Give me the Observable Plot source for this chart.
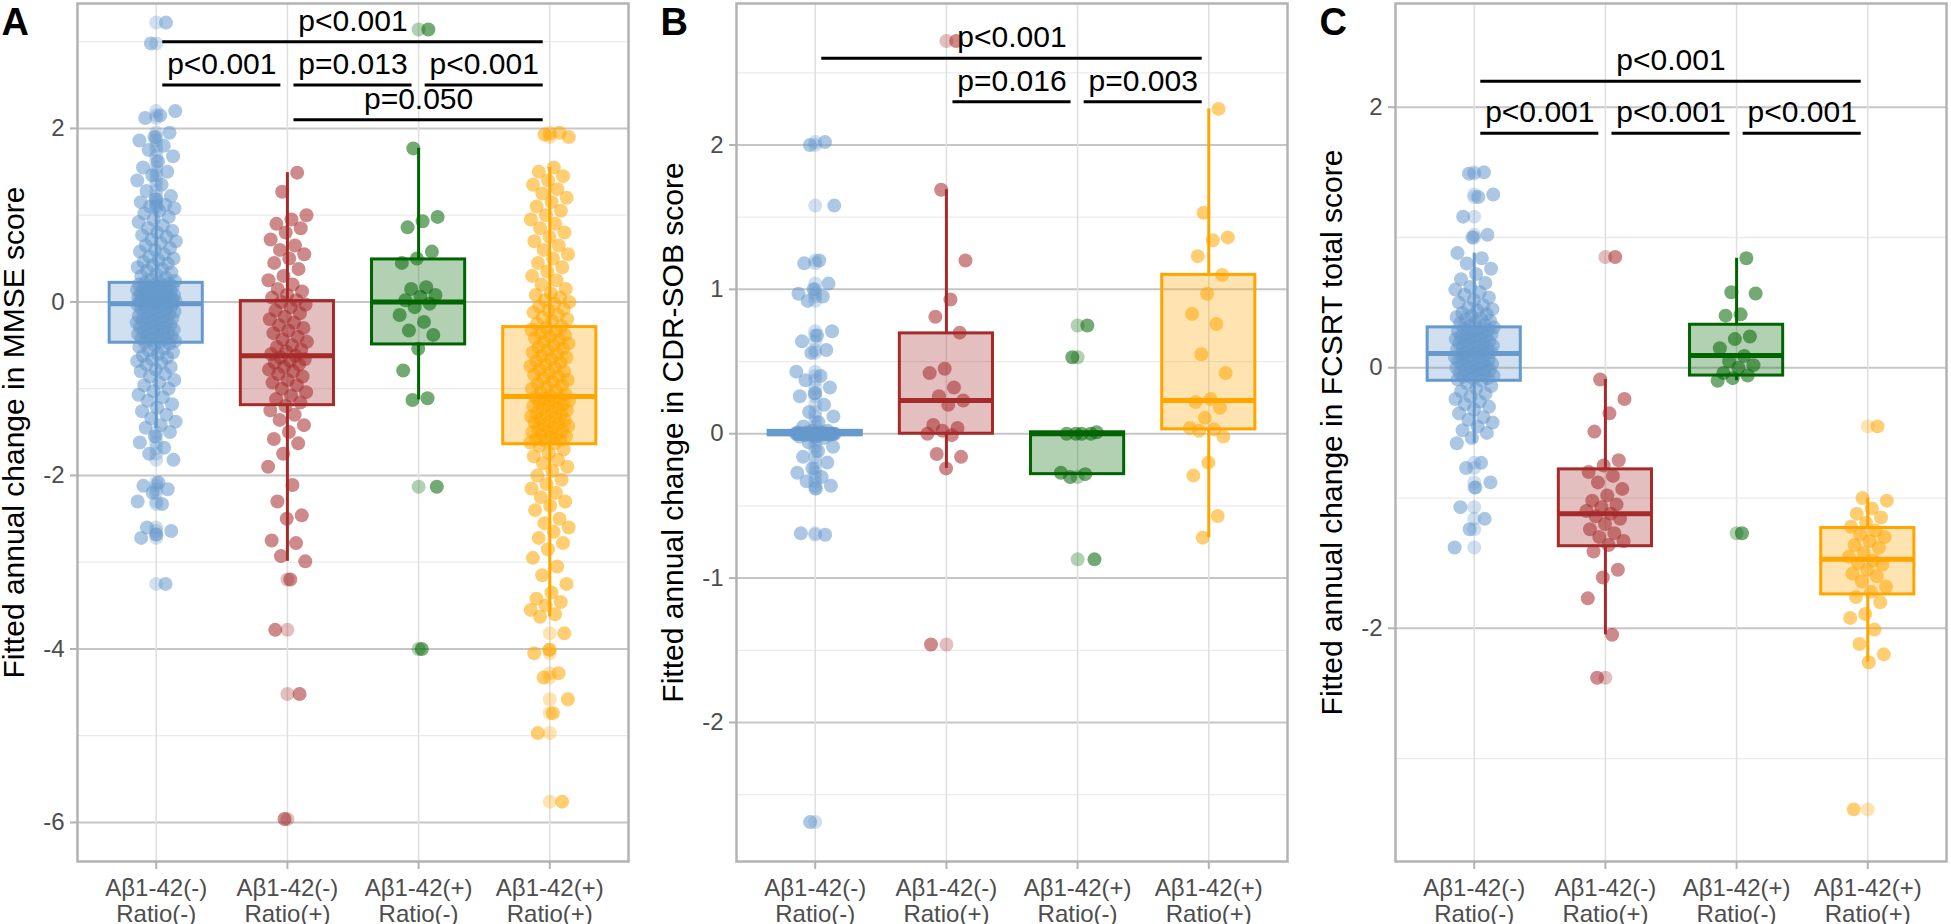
<!DOCTYPE html>
<html><head><meta charset="utf-8">
<script src="https://cdn.jsdelivr.net/npm/d3@7"></script>
<script src="https://cdn.jsdelivr.net/npm/@observablehq/plot@0.6"></script>
<style>
html,body{margin:0;padding:0;background:#fff}
body{width:1951px;height:924px;position:relative;overflow:hidden;font-family:"Liberation Sans",Arial,sans-serif}
.panel{position:absolute;top:0}
</style></head><body>
<div id="pA" class="panel" style="left:0px"></div>
<div id="pB" class="panel" style="left:659px"></div>
<div id="pC" class="panel" style="left:1318px"></div>
<script>
// ---- categories / tick labels
const abetaLabels = ["Aβ1-42(-)", "Aβ1-42(-)", "Aβ1-42(+)", "Aβ1-42(+)"];
const ratioLabels = ["Ratio(-)", "Ratio(+)", "Ratio(-)", "Ratio(+)"];
const groupColors = ["#6699CC", "#A52A2A", "#006400", "#FFA500"];

// ---- Panel A: MMSE
const mmseBlue = [3.22, 2.98, 2.2, 2.15, 2.12, 1.95, 1.9, 1.86, 1.8, 1.75, 1.68, 1.62, 1.55, 1.5, 1.46, 1.4, 1.35, 1.28, 1.22, 1.18, 1.15, 1.12, 1.1, 1.08, 1.05, 1.02, 0.98, 0.95, 0.92, 0.88, 0.85, 0.82, 0.8, 0.77, 0.75, 0.72, 0.7, 0.68, 0.65, 0.62, 0.6, 0.58, 0.55, 0.52, 0.5, 0.48, 0.46, 0.44, 0.42, 0.4, 0.38, 0.36, 0.34, 0.32, 0.3, 0.28, 0.26, 0.24, 0.23,
  0.22, 0.21, 0.2, 0.2, 0.19, 0.18, 0.18, 0.17, 0.16, 0.15, 0.15, 0.14, 0.13, 0.12, 0.12, 0.11, 0.1, 0.1, 0.09, 0.08, 0.08, 0.07, 0.06, 0.06, 0.05, 0.05, 0.04, 0.04, 0.03, 0.03, 0.02, 0.02, 0.01, 0.01, 0.01, 0, 0, 0, 0, 0, -0.01, -0.01, -0.01, -0.02, -0.02,
  -0.03, -0.04, -0.05, -0.06, -0.07, -0.08, -0.09, -0.1, -0.11, -0.12, -0.13, -0.14, -0.15, -0.16, -0.17, -0.18, -0.19, -0.2, -0.21, -0.22, -0.23, -0.24, -0.25, -0.26, -0.27, -0.28, -0.29, -0.3, -0.31, -0.32, -0.33, -0.34, -0.35, -0.36, -0.37, -0.38, -0.39, -0.4, -0.41, -0.42, -0.43, -0.44, -0.45, -0.46, -0.47,
  -0.48, -0.5, -0.52, -0.54, -0.56, -0.58, -0.6, -0.62, -0.64, -0.66, -0.68, -0.7, -0.72, -0.75, -0.78, -0.8, -0.83, -0.86, -0.9, -0.93, -0.96, -1.0, -1.03, -1.07, -1.1, -1.14, -1.18, -1.22, -1.26, -1.3, -1.34, -1.38, -1.42, -1.45, -1.5, -1.55, -1.62, -1.68, -1.75, -1.82, -2.08, -2.12, -2.16, -2.2, -2.3, -2.33, -2.6, -2.64, -2.68, -2.72, -3.25];
const mmseRed = [1.49, 1.27, 1.0, 0.95, 0.9, 0.85, 0.8, 0.72, 0.65, 0.6, 0.55, 0.5, 0.45, 0.38, 0.3, 0.25, 0.2, 0.15, 0.12, 0.08, 0.05, 0.02, 0.0, -0.03, -0.06, -0.1, -0.13, -0.17, -0.2, -0.24, -0.27, -0.3, -0.33, -0.36, -0.4, -0.43, -0.46, -0.5, -0.52, -0.55, -0.57, -0.6, -0.62, -0.64, -0.66, -0.68, -0.7, -0.72, -0.75, -0.78, -0.8, -0.83, -0.86, -0.9, -0.93, -0.96, -1.0, -1.04, -1.08, -1.12, -1.16, -1.2, -1.25, -1.3, -1.36, -1.42, -1.5, -1.58, -1.63, -1.75, -1.9, -2.11, -2.3, -2.46, -2.5, -2.75, -2.78, -2.93, -2.99, -3.2, -3.78, -4.52, -5.96];
const mmseGreen = [3.14, 1.77, 0.98, 0.93, 0.86, 0.58, 0.5, 0.45, 0.17, 0.15, 0.08, 0.06, 0.02, -0.02, -0.06, -0.15, -0.23, -0.33, -0.38, -0.54, -0.79, -1.11, -1.13, -2.13, -4.0];
const mmseOrange = [1.95, 1.93, 1.9, 1.55, 1.5, 1.45, 1.4, 1.35, 1.3, 1.25, 1.2, 1.15, 1.1, 1.05, 1.0, 0.95, 0.9, 0.85, 0.8, 0.75, 0.7, 0.65, 0.6, 0.55, 0.5, 0.45, 0.4, 0.35, 0.3, 0.25, 0.2, 0.15, 0.1, 0.08, 0.05, 0.02, 0.0, -0.02, -0.05, -0.08, -0.1, -0.12, -0.15, -0.18, -0.2, -0.22, -0.25, -0.28,
  -0.3, -0.32, -0.34, -0.36, -0.38, -0.4, -0.42, -0.44, -0.46, -0.48, -0.5, -0.52, -0.54, -0.56, -0.58, -0.6, -0.62, -0.64, -0.66, -0.68, -0.7, -0.72, -0.74, -0.76, -0.78, -0.8, -0.82, -0.84, -0.86, -0.88, -0.9, -0.92, -0.94, -0.96, -0.98, -1.0, -1.02, -1.04, -1.06, -1.08,
  -1.1, -1.11, -1.12, -1.14, -1.15, -1.16, -1.18, -1.19, -1.2, -1.22, -1.23, -1.25, -1.26, -1.28, -1.29, -1.3, -1.32, -1.33, -1.35, -1.36, -1.38, -1.39, -1.4, -1.42, -1.43, -1.45, -1.46, -1.48, -1.49, -1.5, -1.52, -1.53, -1.55, -1.56, -1.58, -1.59, -1.6, -1.62, -1.63,
  -1.66, -1.7, -1.74, -1.78, -1.82, -1.86, -1.9, -1.95, -2.0, -2.05, -2.1, -2.15, -2.2, -2.25, -2.3, -2.35, -2.4, -2.5, -2.55, -2.6, -2.65, -2.72, -2.78, -2.85, -2.95, -3.05, -3.15, -3.25, -3.35, -3.42, -3.46, -3.5, -3.55, -3.6, -3.63, -3.82, -4.01, -4.05, -4.28, -4.33, -4.58, -4.74, -4.97, -5.76];
const mmseQ1 = [-0.47, -1.19, -0.49, -1.64];
const mmseMedian = [-0.02, -0.62, 0.0, -1.09];
const mmseQ3 = [0.22, 0.01, 0.49, -0.29];
const mmseLow = [-1.46, -2.99, -1.13, -3.63];
const mmseHigh = [1.05, 1.49, 1.77, 1.55];
const mmseSigFrom = [1, 1, 2, 3, 2];
const mmseSigTo = [4, 2, 3, 4, 4];
const mmseSigY = [3.0, 2.5, 2.5, 2.5, 2.1];
const mmseSigLabel = ["p<0.001", "p<0.001", "p=0.013", "p<0.001", "p=0.050"];

// ---- Panel B: CDR-SOB
const cdrBlue = [2.02, 2.0, 1.58, 1.2, 1.18, 1.04, 1.0, 0.97, 0.95, 0.92, 0.71, 0.68, 0.64, 0.58, 0.56, 0.43, 0.4, 0.37, 0.32, 0.28, 0.26, 0.2, 0.15, 0.12, 0.08, 0.05, 0.02, 0.02, 0.01, 0.01, 0.01,
  0, 0, 0, 0, 0, 0, 0, 0, 0, 0, 0, 0, 0, 0, 0, 0, 0, 0, 0, 0, 0, 0, 0, 0, 0, 0, 0, 0, 0, 0, 0, 0, 0, 0, 0, 0, 0, 0, 0, 0,
  -0.01, -0.01, -0.01, -0.02, -0.02, -0.03, -0.06, -0.09, -0.12, -0.16, -0.2, -0.24, -0.27, -0.3, -0.33, -0.36, -0.38, -0.69, -0.7, -2.69];
const cdrRed = [2.72, 1.69, 1.2, 0.93, 0.81, 0.7, 0.45, 0.42, 0.32, 0.26, 0.23, 0.2, 0.06, 0.04, 0.02, 0.0, -0.01, -0.14, -0.16, -0.24, -1.46];
const cdrGreen = [0.75, 0.53, 0.01, 0.0, 0.0, 0.0, 0.0, -0.27, -0.28, -0.3, -0.87];
const cdrOrange = [2.25, 1.53, 1.36, 1.34, 1.23, 1.1, 0.97, 0.83, 0.76, 0.55, 0.42, 0.24, 0.22, 0.18, 0.11, 0.04, 0.03, 0.02, -0.02, -0.2, -0.29, -0.57, -0.72];
const cdrQ1 = [-0.01, 0.0, -0.28, 0.03];
const cdrMedian = [0.0, 0.23, 0.0, 0.23];
const cdrQ3 = [0.02, 0.695, 0.01, 1.10];
const cdrLow = [-0.01, -0.24, -0.28, -0.72];
const cdrHigh = [0.02, 1.69, 0.01, 2.25];
const cdrSigFrom = [1, 2, 3];
const cdrSigTo = [4, 3, 4];
const cdrSigY = [2.6, 2.3, 2.3];
const cdrSigLabel = ["p<0.001", "p=0.016", "p=0.003"];

// ---- Panel C: FCSRT
const fcsrtBlue = [1.5, 1.49, 1.33, 1.31, 1.16, 1.02, 1.0, 0.88, 0.84, 0.8, 0.76, 0.72, 0.68, 0.65, 0.62, 0.6, 0.58, 0.56, 0.54, 0.52, 0.5, 0.48, 0.46, 0.45, 0.44, 0.42, 0.41, 0.4, 0.39, 0.38, 0.37, 0.36, 0.35, 0.34, 0.33, 0.32,
  0.31, 0.3, 0.3, 0.29, 0.28, 0.28, 0.27, 0.26, 0.26, 0.25, 0.24, 0.24, 0.23, 0.22, 0.22, 0.21, 0.2, 0.2, 0.19, 0.18, 0.18, 0.17, 0.16, 0.16, 0.15, 0.14, 0.14, 0.13, 0.12, 0.12, 0.11,
  0.1, 0.1, 0.09, 0.08, 0.08, 0.07, 0.06, 0.06, 0.05, 0.04, 0.04, 0.03, 0.02, 0.02, 0.01, 0.0, 0.0, -0.01, -0.02, -0.02, -0.03, -0.04, -0.04, -0.05, -0.06, -0.06, -0.07, -0.08, -0.08, -0.09, -0.1,
  -0.12, -0.14, -0.16, -0.18, -0.2, -0.22, -0.24, -0.26, -0.28, -0.3, -0.32, -0.35, -0.38, -0.4, -0.42, -0.45, -0.48, -0.5, -0.54, -0.58, -0.73, -0.77, -0.88, -0.92, -1.07, -1.16, -1.24, -1.38];
const fcsrtRed = [0.85, -0.09, -0.24, -0.35, -0.49, -0.71, -0.75, -0.8, -0.83, -0.88, -0.93, -0.98, -1.02, -1.05, -1.07, -1.1, -1.12, -1.14, -1.16, -1.2, -1.24, -1.27, -1.3, -1.33, -1.36, -1.41, -1.55, -1.61, -1.77, -2.05, -2.38];
const fcsrtGreen = [0.84, 0.58, 0.57, 0.41, 0.4, 0.24, 0.22, 0.15, 0.09, 0.05, 0.02, 0.0, -0.04, -0.06, -0.08, -0.1, -1.27];
const fcsrtOrange = [-0.45, -1.0, -1.02, -1.08, -1.12, -1.15, -1.19, -1.22, -1.25, -1.28, -1.3, -1.33, -1.36, -1.38, -1.42, -1.45, -1.48, -1.5, -1.51, -1.55, -1.58, -1.6, -1.64, -1.68, -1.72, -1.76, -1.8, -1.89, -1.92, -2.01, -2.12, -2.2, -2.26, -3.39];
const fcsrtQ1 = [-0.10, -1.37, -0.06, -1.74];
const fcsrtMedian = [0.11, -1.12, 0.095, -1.47];
const fcsrtQ3 = [0.31, -0.78, 0.33, -1.23];
const fcsrtLow = [-0.58, -2.05, -0.10, -2.26];
const fcsrtHigh = [0.88, -0.09, 0.84, -1.0];
const fcsrtSigFrom = [1, 1, 2, 3];
const fcsrtSigTo = [4, 2, 3, 4];
const fcsrtSigY = [2.2, 1.8, 1.8, 1.8];
const fcsrtSigLabel = ["p<0.001", "p<0.001", "p<0.001", "p<0.001"];

// deterministic horizontal jitter (layout only)
function jitter(i) { const f = ((i + 1) * 0.6180339887 + 0.13) % 1; return (f - 0.5) * 0.3; }

function makePanel(cfg) {
  const pts = [], outl = [];
  cfg.groups.forEach((vals, g) => vals.forEach((v, i) => {
    pts.push({x: g + 1 + jitter(i), y: v, c: groupColors[g]});
    if (v < cfg.low[g] - 1e-9 || v > cfg.high[g] + 1e-9) outl.push({x: g + 1, y: v, c: groupColors[g]});
  }));
  const boxes = d3.range(4).map(g => ({x: g + 1, x1: g + 1 - 0.355, x2: g + 1 + 0.355,
    q1: cfg.q1[g], q3: cfg.q3[g], med: cfg.med[g], lo: cfg.low[g], hi: cfg.high[g], c: groupColors[g]}));
  const sig = cfg.sigFrom.map((f, i) => ({x1: f + 0.05, x2: cfg.sigTo[i] - 0.05, xm: (f + cfg.sigTo[i]) / 2, y: cfg.sigY[i], label: cfg.sigLabel[i]}));
  return Plot.plot({
    width: cfg.width, height: 924,
    marginTop: 3, marginBottom: 63, marginLeft: 77, marginRight: cfg.marginRight,
    style: {fontFamily: "'Liberation Sans', Arial, sans-serif", background: "transparent", overflow: "visible"},
    x: {type: "linear", domain: [0.4, 4.6]},
    y: {domain: cfg.yDomain},
    color: {type: "identity"},
    marks: [
      Plot.gridY(cfg.yMinor, {stroke: "#ebebeb", strokeOpacity: 1, strokeWidth: 1.3}),
      Plot.gridY(cfg.yTicks, {stroke: "#c6c6c6", strokeOpacity: 1, strokeWidth: 2}),
      Plot.gridX([1, 2, 3, 4], {stroke: "#e0e0e0", strokeOpacity: 1, strokeWidth: 1.6}),
      Plot.rect(boxes, {x1: "x1", x2: "x2", y1: "q1", y2: "q3", fill: "c", fillOpacity: 0.3}),
      Plot.ruleX(boxes, {x: "x", y1: "q3", y2: "hi", stroke: "c", strokeWidth: 3}),
      Plot.ruleX(boxes, {x: "x", y1: "lo", y2: "q1", stroke: "c", strokeWidth: 3}),
      Plot.rect(boxes, {x1: "x1", x2: "x2", y1: "q1", y2: "q3", fill: "none", stroke: "c", strokeWidth: 3}),
      Plot.ruleY(boxes, {x1: "x1", x2: "x2", y: "med", stroke: "c", strokeWidth: 5}),
      Plot.dot(outl, {x: "x", y: "y", r: 7, fill: "c", fillOpacity: 0.3, stroke: null}),
      Plot.dot(pts, {x: "x", y: "y", r: 7, fill: "c", fillOpacity: 0.55, stroke: null}),
      Plot.frame({stroke: "#b3b3b3", strokeWidth: 2.5}),
      Plot.axisY(cfg.yTicks, {tickSize: 7, tickPadding: 6, fontSize: 24, fill: "#4d4d4d", stroke: "#b3b3b3", strokeWidth: 2, label: null,
        tickFormat: d => String(d)}),
      Plot.axisX([1, 2, 3, 4], {tickSize: 8, tickPadding: 8, fontSize: 24, fill: "#4d4d4d", stroke: "#b3b3b3", strokeWidth: 2, label: null, lineHeight: 1.08,
        tickFormat: i => abetaLabels[i - 1] + "\n" + ratioLabels[i - 1]}),
      Plot.ruleY(sig, {x1: "x1", x2: "x2", y: "y", stroke: "black", strokeWidth: 3}),
      Plot.text(sig, {x: "xm", y: "y", text: "label", dy: -11, lineAnchor: "bottom", fontSize: 30, fill: "black"}),
      Plot.text([cfg.title], {text: d => d, frameAnchor: "left", textAnchor: "middle", lineAnchor: "middle", rotate: -90, dx: -63, fontSize: 30, fill: "black"}),
      Plot.text([cfg.letter], {text: d => d, frameAnchor: "top-left", dx: -76, dy: 5, textAnchor: "start", lineAnchor: "top", fontSize: 38, fontWeight: "bold", fill: "black"})
    ]
  });
}

document.getElementById("pA").append(makePanel({
  letter: "A", title: "Fitted annual change in MMSE score",
  groups: [mmseBlue, mmseRed, mmseGreen, mmseOrange],
  q1: mmseQ1, med: mmseMedian, q3: mmseQ3, low: mmseLow, high: mmseHigh,
  sigFrom: mmseSigFrom, sigTo: mmseSigTo, sigY: mmseSigY, sigLabel: mmseSigLabel,
  yDomain: [-6.45, 3.44], yTicks: [-6, -4, -2, 0, 2], yMinor: [-5, -3, -1, 1, 3],
  width: 650, marginRight: 22
}));
document.getElementById("pB").append(makePanel({
  letter: "B", title: "Fitted annual change in CDR-SOB score",
  groups: [cdrBlue, cdrRed, cdrGreen, cdrOrange],
  q1: cdrQ1, med: cdrMedian, q3: cdrQ3, low: cdrLow, high: cdrHigh,
  sigFrom: cdrSigFrom, sigTo: cdrSigTo, sigY: cdrSigY, sigLabel: cdrSigLabel,
  yDomain: [-2.963, 2.98], yTicks: [-2, -1, 0, 1, 2], yMinor: [-2.5, -1.5, -0.5, 0.5, 1.5, 2.5],
  width: 650, marginRight: 22
}));
document.getElementById("pC").append(makePanel({
  letter: "C", title: "Fitted annual change in FCSRT total score",
  groups: [fcsrtBlue, fcsrtRed, fcsrtGreen, fcsrtOrange],
  q1: fcsrtQ1, med: fcsrtMedian, q3: fcsrtQ3, low: fcsrtLow, high: fcsrtHigh,
  sigFrom: fcsrtSigFrom, sigTo: fcsrtSigTo, sigY: fcsrtSigY, sigLabel: fcsrtSigLabel,
  yDomain: [-3.79, 2.796], yTicks: [-2, 0, 2], yMinor: [-3, -1, 1],
  width: 633, marginRight: 5
}));
</script>
</body></html>
